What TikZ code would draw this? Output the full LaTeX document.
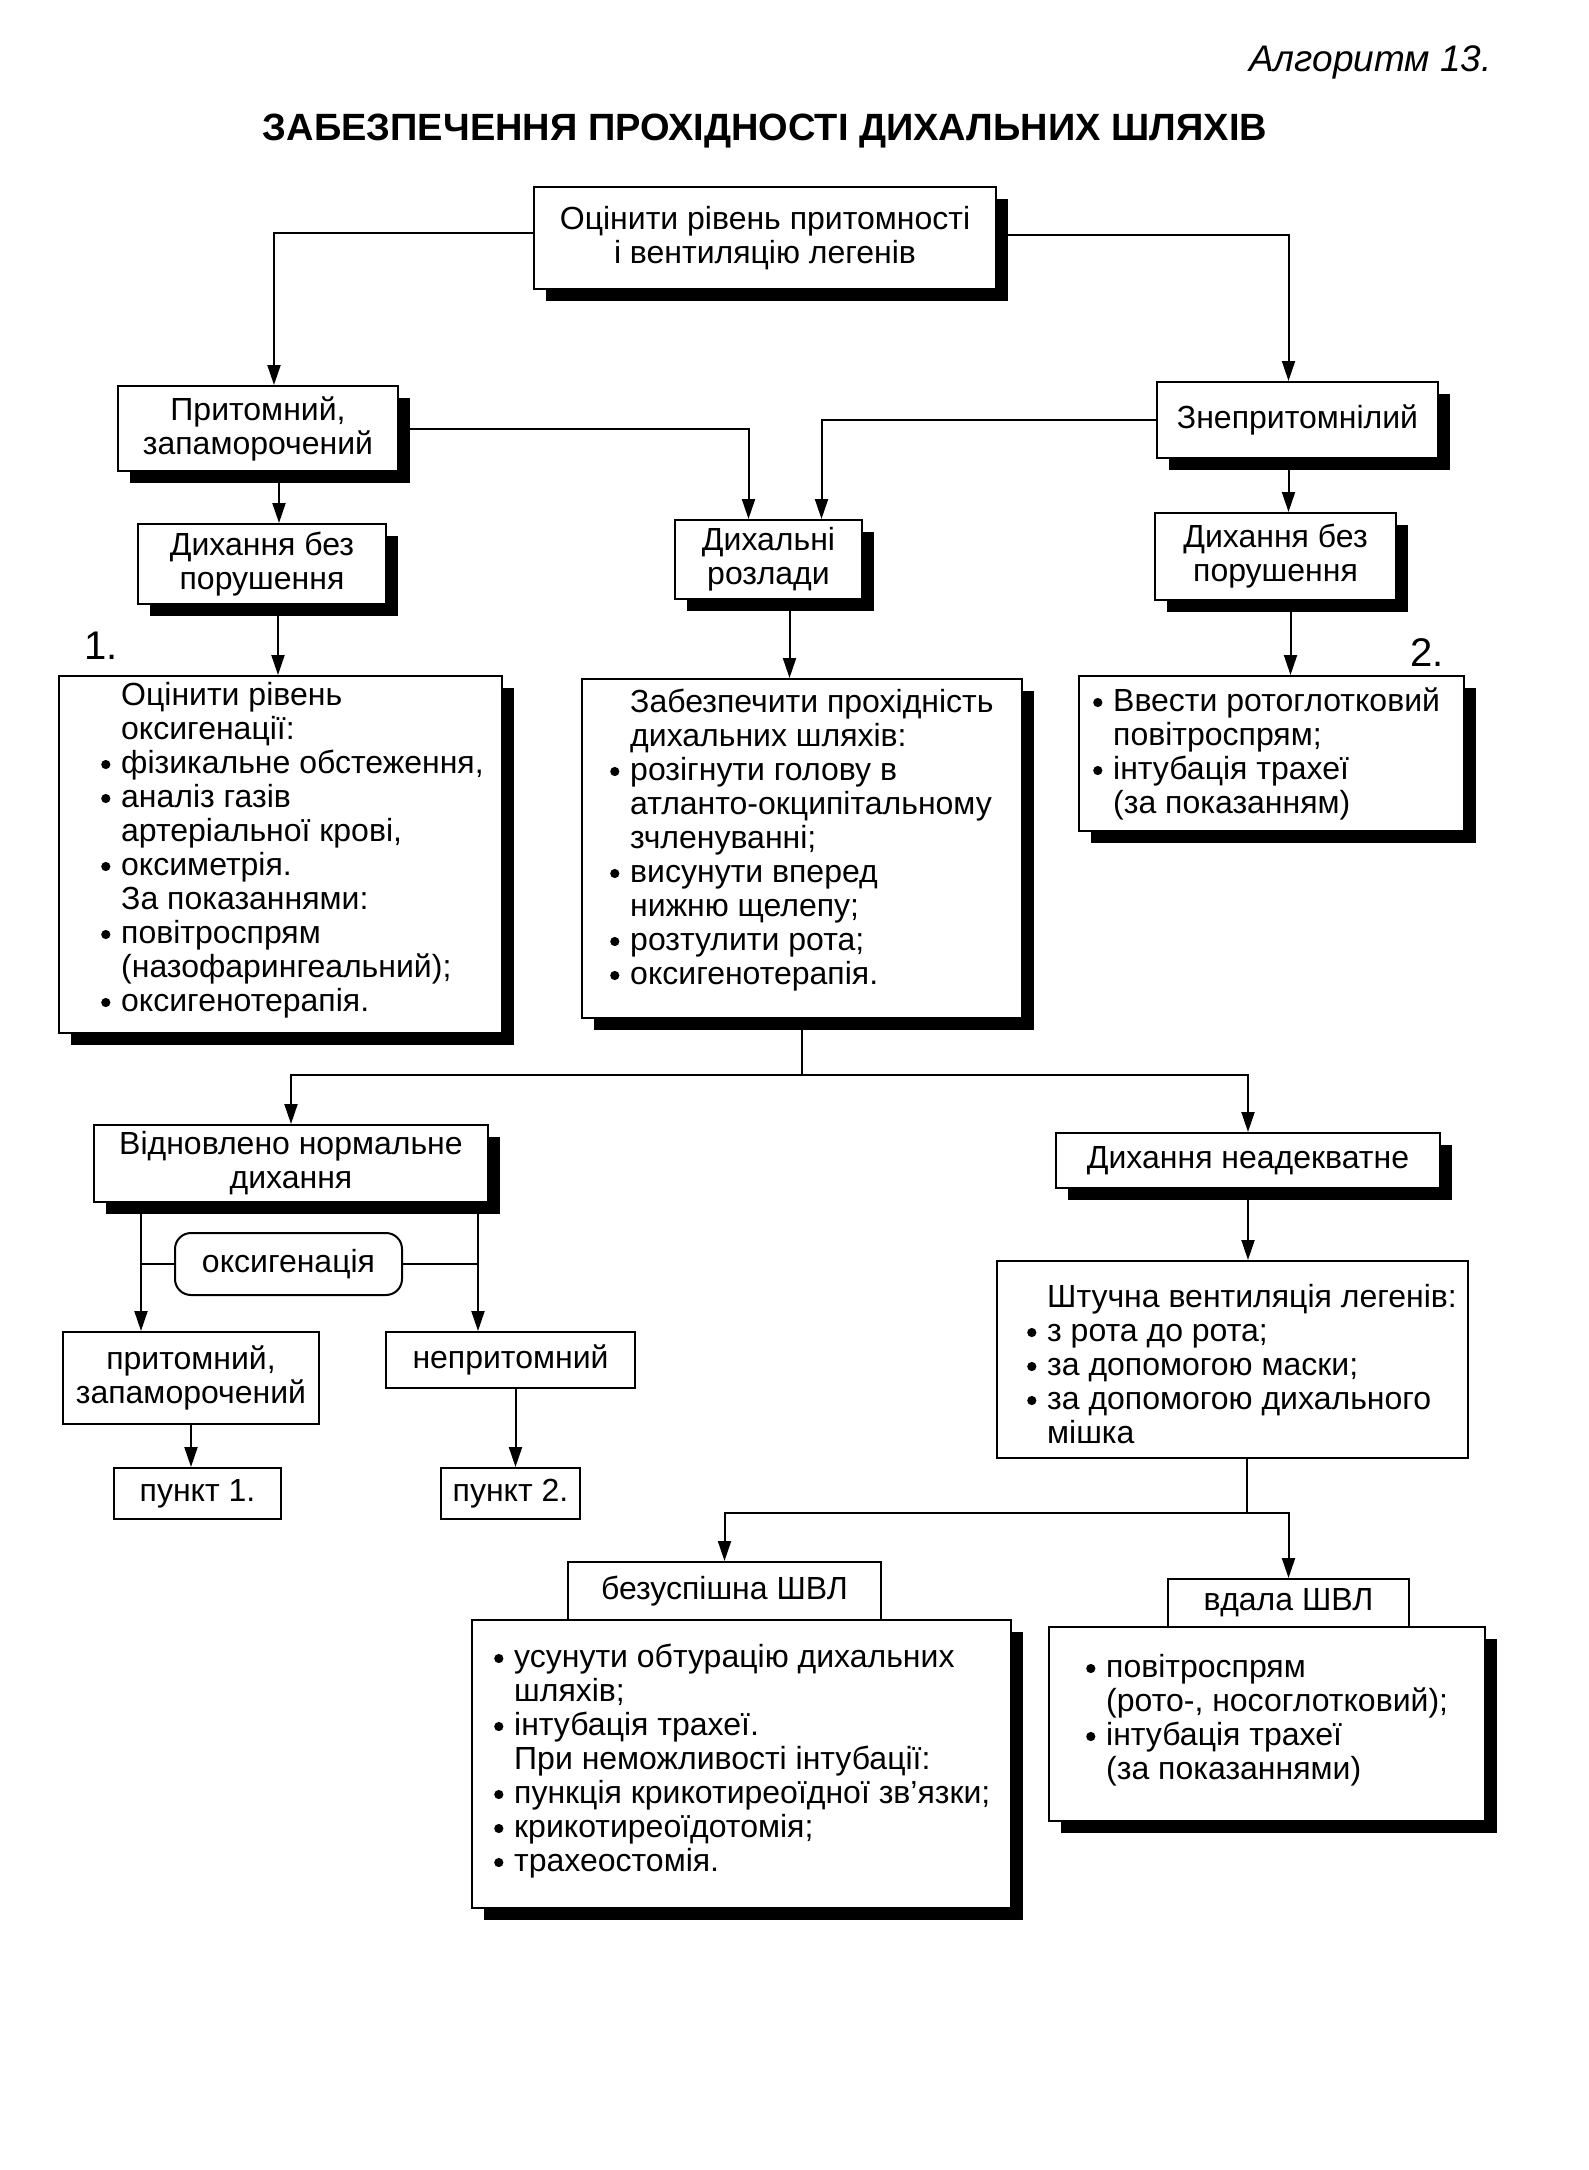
\documentclass[tikz,border=0pt]{standalone}
\usepackage{fontspec}
\setmainfont{Liberation Sans}
\usetikzlibrary{arrows.meta,shadows}
\newcommand{\bodyf}{\fontsize{32}{34}\selectfont}
\newcommand{\bl}{\makebox[20pt][l]{\tikz[baseline=0pt]{\fill[black] (0pt,8.5pt) circle[radius=4.6pt];}}}
\newcommand{\ib}{\hspace*{20pt}}
\begin{document}
\begin{tikzpicture}[x=1pt,y=-1pt,
  ln/.style={line width=2pt},
  arr/.style={line width=2pt,-{Triangle[length=20pt,width=13pt]}},
  boxbase/.style={draw,line width=2pt,fill=white,anchor=north west,inner sep=0pt,align=center,font=\bodyf},
  sbox/.style={boxbase,drop shadow={shadow xshift=12pt,shadow yshift=-12pt,fill=black,opacity=1}},
  tbox/.style={boxbase},
  txt/.style={anchor=north west,inner sep=0pt,align=left,font=\bodyf},
]
\fill[white] (0,0) rectangle (1589,2170);
\useasboundingbox (0,0) rectangle (1589,2170);

\node[anchor=east,inner sep=0pt,font=\fontsize{37}{40}\selectfont\itshape] (alg) at (1492,62) {Алгоритм 13.};
\node[inner sep=0pt,font=\fontsize{38}{42}\selectfont\bfseries] (title) at (765,131) {ЗАБЕЗПЕЧЕННЯ ПРОХІДНОСТІ ДИХАЛЬНИХ ШЛЯХІВ};

% boxes
\node[sbox,minimum width=462pt,minimum height=102pt] (A) at (533,186) {Оцінити рівень притомності\\і вентиляцію легенів};
\node[sbox,minimum width=280pt,minimum height=85pt] (B) at (117,385) {Притомний,\\запаморочений};
\node[sbox,minimum width=248pt,minimum height=80pt] (C) at (137,523) {Дихання без\\порушення};
\node[sbox,minimum width=187pt,minimum height=79pt] (D) at (674,519) {Дихальні\\розлади};
\node[sbox,minimum width=281pt,minimum height=76pt] (E) at (1156,381) {Знепритомнілий};
\node[sbox,minimum width=241pt,minimum height=87pt] (F) at (1154,512) {Дихання без\\порушення};

\node[sbox,minimum width=443pt,minimum height=357pt] (G) at (58,675) {};
\node[sbox,minimum width=440pt,minimum height=339pt] (H) at (581,678) {};
\node[sbox,minimum width=385pt,minimum height=155pt] (I) at (1078,675) {};

\node[anchor=west,inner sep=0pt,font=\fontsize{40}{44}\selectfont] (n1) at (84,646) {1.};
\node[anchor=west,inner sep=0pt,font=\fontsize{40}{44}\selectfont] (n2) at (1410,653) {2.};

\node[txt] (Gt) at (101,681) {\strut\ib Оцінити рівень\\
\ib оксигенації:\\
\bl фізикальне обстеження,\\
\bl аналіз газів\\
\ib артеріальної крові,\\
\bl оксиметрія.\\
\ib За показаннями:\\
\bl повітроспрям\\
\ib (назофарингеальний);\\
\bl оксигенотерапія.};

\node[txt] (Ht) at (610,688) {\strut\ib Забезпечити прохідність\\
\ib дихальних шляхів:\\
\bl розігнути голову в\\
\ib атланто-окципітальному\\
\ib зчленуванні;\\
\bl висунути вперед\\
\ib нижню щелепу;\\
\bl розтулити рота;\\
\bl оксигенотерапія.};

\node[txt] (It) at (1093,687) {\strut\bl Ввести ротоглотковий\\
\ib повітроспрям;\\
\bl інтубація трахеї\\
\ib (за показанням)};

\node[sbox,minimum width=394pt,minimum height=77pt] (J) at (93,1124) {Відновлено нормальне\\дихання};
\node[sbox,minimum width=384pt,minimum height=55pt] (K) at (1055,1132) {Дихання неадекватне};

\node[tbox,rounded corners=16pt,minimum width=227pt,minimum height=62pt] (ox) at (174,1232) {оксигенація};

\node[tbox,minimum width=256pt,minimum height=92pt] (L) at (62,1331) {притомний,\\запаморочений};
\node[tbox,minimum width=249pt,minimum height=56pt] (M) at (385,1331) {непритомний};
\node[tbox,minimum width=167pt,minimum height=51pt] (N) at (113,1467) {пункт 1.};
\node[tbox,minimum width=139pt,minimum height=51pt] (O) at (440,1467) {пункт 2.};

\node[tbox,minimum width=471pt,minimum height=197pt] (P) at (996,1260) {};
\node[txt] (Pt) at (1027,1283) {\strut\ib Штучна вентиляція легенів:\\
\bl з рота до рота;\\
\bl за допомогою маски;\\
\bl за допомогою дихального\\
\ib мішка};

\node[sbox,minimum width=539pt,minimum height=288pt] (S) at (471,1619) {};
\node[tbox,minimum width=313pt,minimum height=58pt] (Q) at (567,1561) {безуспішна ШВЛ};
\node[txt] (St) at (494,1643) {\strut\bl усунути обтурацію дихальних\\
\ib шляхів;\\
\bl інтубація трахеї.\\
\ib При неможливості інтубації:\\
\bl пункція крикотиреоїдної зв’язки;\\
\bl крикотиреоїдотомія;\\
\bl трахеостомія.};

\node[sbox,minimum width=436pt,minimum height=194pt] (T) at (1048,1626) {};
\node[tbox,minimum width=241pt,minimum height=48pt] (R) at (1167,1578) {вдала ШВЛ};
\node[txt] (Tt) at (1086,1653) {\strut\bl повітроспрям\\
\ib (рото-, носоглотковий);\\
\bl інтубація трахеї\\
\ib (за показаннями)};

% connectors
\draw[arr] ([yshift=5pt]A.west) -| ([xshift=16pt]B.north);
\draw[arr] ([yshift=3pt]A.east) -| ([xshift=-9pt]E.north);
\draw[arr] (B.east) -| ([xshift=-20pt]D.north);
\draw[arr] (E.west) -| ([xshift=53pt]D.north);

\path (B.south) ++(21,0) coordinate (b1);
\draw[arr] (b1) -- (b1 |- C.north);
\path (C.south) ++(16,0) coordinate (c1);
\draw[arr] (c1) -- (c1 |- G.north);
\path (D.south) ++(21,0) coordinate (d1);
\draw[arr] (d1) -- (d1 |- H.north);
\path (E.south) ++(-9,0) coordinate (e1);
\draw[arr] (e1) -- (e1 |- F.north);
\path (F.south) ++(15,0) coordinate (f1);
\draw[arr] (f1) -- (f1 |- I.north);

\path (H.south) ++(0,56) coordinate (hs);
\draw[ln] (H.south) -- (hs);
\draw[arr] (hs) -| (J.north);
\draw[arr] (hs) -| (K.north);

\path (J.south) ++(-150,0) coordinate (jl);
\path (J.south) ++(187,0) coordinate (jr);
\draw[arr] (jl) -- (jl |- L.north);
\draw[arr] (jr) -- (jr |- M.north);
\draw[ln] (ox.west) -- (ox.west -| jl);
\draw[ln] (ox.east) -- (ox.east -| jr);

\draw[arr] (L.south) -- (L.south |- N.north);
\path (M.south) ++(5,0) coordinate (m1);
\draw[arr] (m1) -- (m1 |- O.north);

\draw[arr] (K.south) -- (K.south |- P.north);

\path (P.south) ++(14.5,0) coordinate (p1);
\path (p1) ++(0,54) coordinate (ps);
\draw[ln] (p1) -- (ps);
\draw[arr] (ps) -| (Q.north);
\draw[arr] (ps) -| (R.north);
\end{tikzpicture}
\end{document}
